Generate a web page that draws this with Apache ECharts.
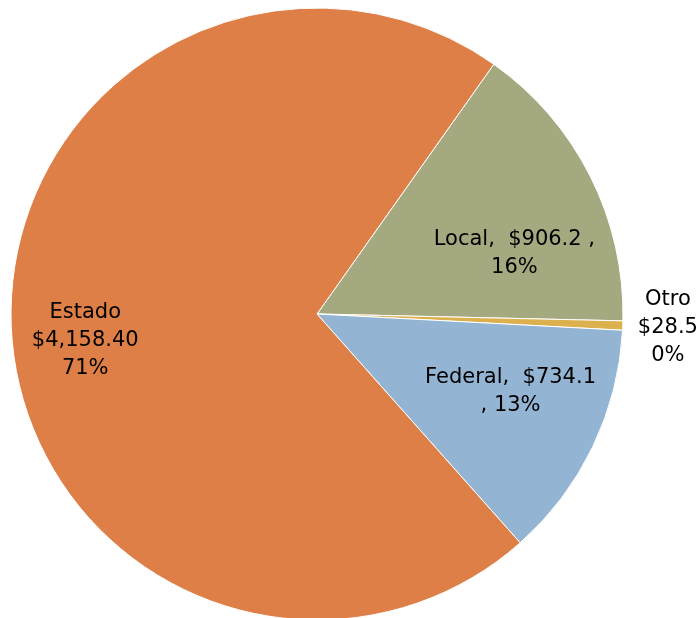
<!doctype html>
<html lang="es">
<head>
    <meta charset="UTF-8">
    <title>pie</title>
    <style>
        html, body { margin: 0; padding: 0; background: #fff; }
        #main { width: 696px; height: 618px; }
    </style>
</head>
<body>
    <div id="main"></div>
    <script src="https://cdn.jsdelivr.net/npm/echarts@6/dist/echarts.min.js"></script>
    <script>
        // datos
        var names = ['Local', 'Otro', 'Federal', 'Estado'];
        var values = [906.2, 28.5, 734.1, 4158.4];
        var valueText = ['$906.2', '$28.5', '$734.1', '$4,158.40'];
        var colors = ['#a5a980', '#ddb04e', '#93b4d2', '#dd7f46'];

        // desplazamiento de cada etiqueta respecto a su posicion interior
        var offsets = [[58, 10], [195, 8], [53, 10], [-76, 18]];

        function labelText(i, pct) {
            var p = Math.round(pct) + '%';
            if (i === 0) return names[i] + ',  ' + valueText[i] + ' ,\n' + p;
            if (i === 2) return names[i] + ',  ' + valueText[i] + '\n, ' + p;
            return names[i] + '\n' + valueText[i] + '\n' + p;
        }

        var data = names.map(function (n, i) {
            return {
                name: n,
                value: values[i],
                itemStyle: { color: colors[i] },
                label: { offset: offsets[i] }
            };
        });

        var myChart = echarts.init(document.getElementById('main'));
        myChart.setOption({
            animation: false,
            series: [{
                type: 'pie',
                center: [317, 314],
                radius: [0, 306],
                startAngle: 54.7,
                clockwise: true,
                avoidLabelOverlap: false,
                itemStyle: { borderColor: '#fff', borderWidth: 1 },
                label: {
                    show: true,
                    position: 'inside',
                    color: '#000',
                    fontFamily: '"DejaVu Sans", sans-serif',
                    fontSize: 21,
                    lineHeight: 28,
                    align: 'center',
                    formatter: function (p) { return labelText(p.dataIndex, p.percent); }
                },
                labelLine: { show: false },
                emphasis: { disabled: true },
                data: data
            }]
        });
    </script>
</body>
</html>
